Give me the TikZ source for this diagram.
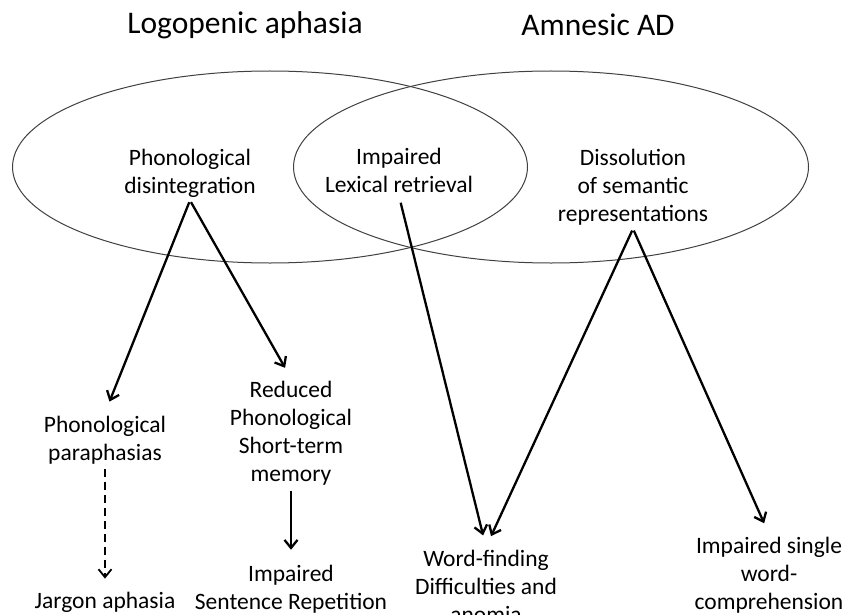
\documentclass[tikz,border=0pt]{standalone}
\usepackage{fontspec}
\setmainfont{Carlito}
\usetikzlibrary{arrows.meta,shapes.geometric}

\begin{document}
\begin{tikzpicture}[
    x=1pt,y=-1pt,
    font=\fontsize{23.5}{28}\selectfont,>={Straight Barb[length=8pt,width=13pt]},
    title/.style={font=\fontsize{31.5}{36}\selectfont},
    set/.style={ellipse,draw=black!75,line width=1pt,minimum width=515pt,minimum height=192pt},
    txt/.style={align=center,inner sep=3pt},
    link/.style={->,line width=2.3pt,shorten >=12pt,shorten <=2pt},
    ]
    \useasboundingbox (0,0) rectangle (845,615);
    \clip (0,0) rectangle (845,615);
    \node[title] (T1) at (245,25) {Logopenic aphasia};
    \node[title] (T2) at (598,25) {Amnesic AD};
    \node[set] (L) at (270,167) {};
    \node[set] (R) at (551,167) {};
    \node[txt] (phon) at (190,173) {Phonological\\disintegration};
    \node[txt] (lex) at (399,170.5) {Impaired\\Lexical retrieval};
    \node[txt] (dis) at (633,187.5) {Dissolution\\of semantic\\representations};
    \node[txt] (para) at (105,440) {Phonological\\paraphasias};
    \node[txt] (red) at (291,433.5) {Reduced\\Phonological\\Short-term\\memory};
    \node[txt] (jar) at (105,602) {Jargon aphasia};
    \node[txt] (sent) at (291,589) {Impaired\\Sentence Repetition};
    \node[txt] (word) at (486,586.5) {Word-finding\\Difficulties and\\anomia};
    \node[txt] (single) at (769,575.5) {Impaired single\\word-\\comprehension};
    \path (phon.south)
        edge[link] (para.north)
        edge[link] (red.north)
        ;
    \path (lex.south) edge[link,shorten <=7pt] (word.north);
    \path (dis.south)
        edge[link] (word.north)
        edge[link] (single.north)
        ;
    \path (para.south) edge[link,line width=1.8pt,dash pattern=on 8pt off 5pt,shorten >=10pt] (jar.north);
    \path (red.south) edge[link] (sent.north);
\end{tikzpicture}
\end{document}
